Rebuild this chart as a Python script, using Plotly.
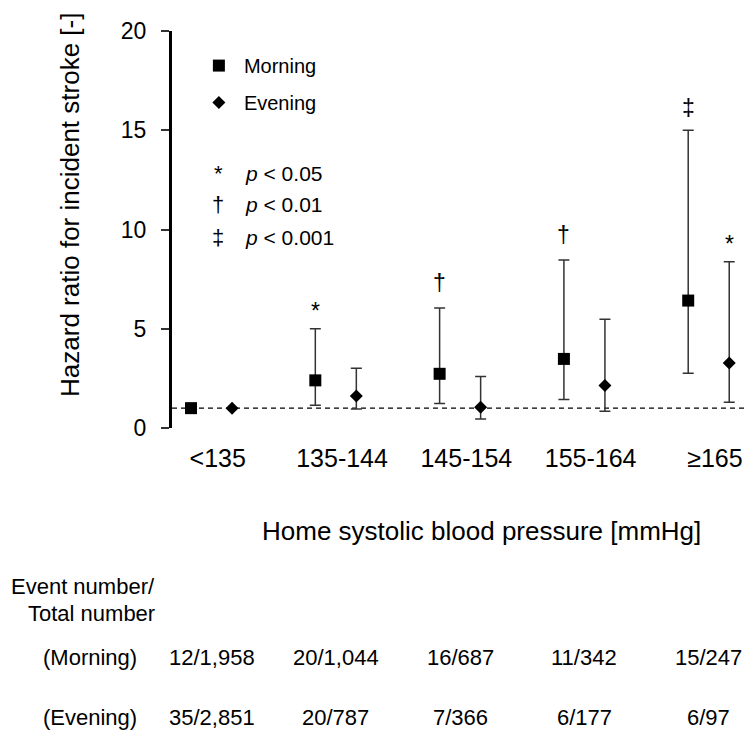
import plotly.graph_objects as go

# Home systolic blood pressure categories
categories = ["<135", "135-144", "145-154", "155-164", "≥165"]

# Hazard ratios with 95% confidence limits (reference group has no interval)
hr_morning = [1.00, 2.40, 2.73, 3.48, 6.42]
lo_morning = [None, 1.14, 1.24, 1.44, 2.76]
hi_morning = [None, 5.00, 6.04, 8.46, 15.00]

hr_evening = [1.00, 1.61, 1.05, 2.14, 3.27]
lo_evening = [None, 0.96, 0.45, 0.85, 1.30]
hi_evening = [None, 3.01, 2.60, 5.48, 8.37]

# Significance marks above the upper limits
sig_morning = ["", "*", "†", "†", "‡"]
sig_evening = ["", "", "", "", "*"]

# Event number / total number
events_morning = ["12/1,958", "20/1,044", "16/687", "11/342", "15/247"]
events_evening = ["35/2,851", "20/787", "7/366", "6/177", "6/97"]

FONT = "Liberation Sans, Arial, sans-serif"
EVE_OFFSET = 0.33
LABEL_SHIFT = 0.05
SIG_SHIFT = {"*": 3, "†": 10, "‡": 7}

x_m = list(range(len(categories)))
x_e = [i + EVE_OFFSET for i in x_m]
x_c = [i + EVE_OFFSET / 2 for i in x_m]


def err_plus(hr, hi):
    return [None if h is None else h - v for v, h in zip(hr, hi)]


def err_minus(hr, lo):
    return [None if l is None else v - l for v, l in zip(hr, lo)]


fig = go.Figure()

err_style = dict(type="data", symmetric=False, color="#333333", thickness=1.5, width=5.5)

fig.add_trace(go.Scatter(
    x=x_m, y=hr_morning, mode="markers", name="Morning", legendgroup="m",
    marker=dict(symbol="square", size=12, color="black"),
    error_y=dict(array=err_plus(hr_morning, hi_morning),
                 arrayminus=err_minus(hr_morning, lo_morning), **err_style),
))
fig.add_trace(go.Scatter(
    x=x_e, y=hr_evening, mode="markers", name="Evening", legendgroup="e",
    marker=dict(symbol="diamond", size=10, color="black"),
    error_y=dict(array=err_plus(hr_evening, hi_evening),
                 arrayminus=err_minus(hr_evening, lo_evening), **err_style),
))

# Reference line at HR = 1
fig.add_shape(type="line", xref="paper", x0=0, x1=1, yref="y", y0=1, y1=1,
              line=dict(color="black", width=1.3, dash="5px,4px"), layer="below")

annotations = []

# Significance symbols
for xs, his, sigs in ((x_m, hi_morning, sig_morning), (x_e, hi_evening, sig_evening)):
    for x, h, s in zip(xs, his, sigs):
        if s and h is not None:
            annotations.append(dict(x=x, y=h, xref="x", yref="y", text=s, showarrow=False,
                                    yanchor="bottom", yshift=SIG_SHIFT[s],
                                    font=dict(family=FONT, size=23, color="black")))

# p-value key
p_rows = [("*", "<i>p</i> < 0.05", 0.642), ("†", "<i>p</i> < 0.01", 0.562), ("‡", "<i>p</i> < 0.001", 0.479)]
for sym, txt, yp in p_rows:
    annotations.append(dict(x=0.0799, y=yp, xref="paper", yref="paper", text=sym, showarrow=False,
                            xanchor="center", yanchor="middle",
                            font=dict(family=FONT, size=22, color="black")))
    annotations.append(dict(x=0.1233, y=yp, xref="paper", yref="paper", text=txt, showarrow=False,
                            xanchor="left", yanchor="middle",
                            font=dict(family=FONT, size=21, color="black")))

# Axis titles
annotations.append(dict(x=-0.177, y=0.562, xref="paper", yref="paper",
                        text="Hazard ratio for incident stroke [-]", textangle=-90, showarrow=False,
                        xanchor="center", yanchor="middle",
                        font=dict(family=FONT, size=26, color="black")))
annotations.append(dict(x=0.538, y=-0.259, xref="paper", yref="paper",
                        text="Home systolic blood pressure [mmHg]", showarrow=False,
                        xanchor="center", yanchor="middle",
                        font=dict(family=FONT, size=26, color="black")))

# Event table
tfont = dict(family=FONT, size=22, color="black")
annotations.append(dict(x=-0.026, y=-0.4005, xref="paper", yref="paper", text="Event number/",
                        showarrow=False, xanchor="right", yanchor="middle", font=tfont))
annotations.append(dict(x=-0.026, y=-0.466, xref="paper", yref="paper", text="Total number",
                        showarrow=False, xanchor="right", yanchor="middle", font=tfont))
row_y = {"(Morning)": -0.579, "(Evening)": -0.730}
annotations.append(dict(x=-0.142, y=row_y["(Morning)"], xref="paper", yref="paper", text="(Morning)",
                        showarrow=False, xanchor="center", yanchor="middle", font=tfont))
annotations.append(dict(x=-0.142, y=row_y["(Evening)"], xref="paper", yref="paper", text="(Evening)",
                        showarrow=False, xanchor="center", yanchor="middle", font=tfont))
for x, tm, te in zip(x_c, events_morning, events_evening):
    annotations.append(dict(x=x, y=row_y["(Morning)"], xref="x", yref="paper", text=tm,
                            showarrow=False, xanchor="center", yanchor="middle", font=tfont))
    annotations.append(dict(x=x, y=row_y["(Evening)"], xref="x", yref="paper", text=te,
                            showarrow=False, xanchor="center", yanchor="middle", font=tfont))

fig.update_layout(
    width=748, height=731,
    margin=dict(l=172, r=0, t=31, b=303),
    plot_bgcolor="white", paper_bgcolor="white",
    font=dict(family=FONT, size=21, color="black"),
    showlegend=True,
    legend=dict(x=0.038, y=0.962, xanchor="left", yanchor="top",
                font=dict(family=FONT, size=20, color="black"),
                bgcolor="rgba(0,0,0,0)", tracegroupgap=8, itemsizing="trace", itemwidth=40),
    annotations=annotations,
)

fig.update_xaxes(
    range=[-0.153, 4.481], showline=False, showgrid=False, zeroline=False,
    tickvals=[c + LABEL_SHIFT for c in x_c], ticktext=categories, ticks="",
    tickfont=dict(family=FONT, size=25, color="black"), ticklabelstandoff=13,
)
fig.update_yaxes(
    range=[0, 20], tickvals=[0, 5, 10, 15, 20], showline=True, linewidth=3, linecolor="black",
    ticks="outside", ticklen=8, tickwidth=1.5, tickcolor="#333333",
    showgrid=False, zeroline=False,
    tickfont=dict(family=FONT, size=23, color="black"), ticklabelstandoff=10,
)

fig.write_html("out.html")
